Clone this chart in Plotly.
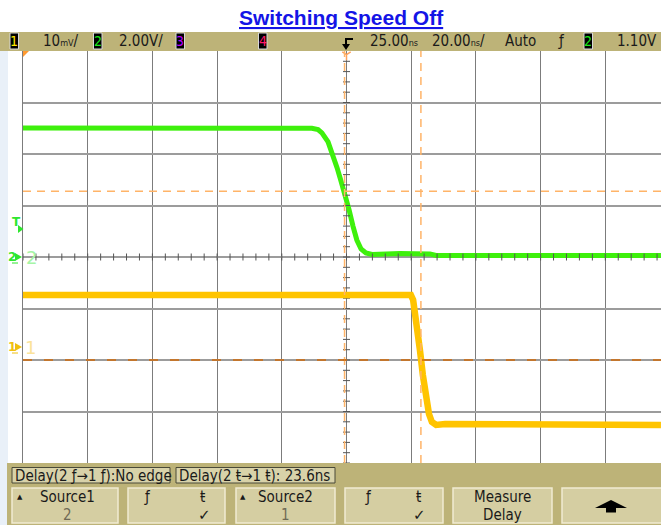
import numpy as np
import plotly.graph_objects as go

# ---------------- data ----------------
# Channel 2 (green) : time in ns, volts
ch2_time_ns = [-75, 14.3, 16.2, 17.4, 19.3, 20.8, 22.1, 23.3, 24.5, 25.8, 27.0,
               28.2, 29.5, 31.0, 32.9, 41.5, 50.8, 52.7, 122.2]
ch2_volts = [5.01, 5.0, 4.95, 4.82, 4.47, 3.96, 3.46, 2.95, 2.45, 1.83, 1.20,
             0.66, 0.31, 0.16, 0.10, 0.14, 0.12, 0.06, 0.06]
# Channel 1 (yellow) : time in ns, volts
ch1_time_ns = [-75, 44.9, 45.6, 46.5, 47.7, 48.6, 49.6, 50.5, 51.4, 52.7, 55.5, 122.2]
ch1_volts = [10.1, 10.1, 9.15, 5.66, -0.56, -5.41, -9.68, -12.99, -14.54, -15.12, -14.93, -15.1]

# scope settings
ch1_scale, ch1_offset_div = 10.0, -1.75
ch2_scale, ch2_offset_div = 2.0, 0.0
time_per_div, time_center = 20.0, 25.0
trigger_level = 1.10
cursor_times = [24.4, 48.0]
ch2_threshold = 2.55
ch1_threshold = -2.5

title_text = "Switching Speed Off"
meas_labels = ["Delay(2 ƒ→1 ƒ):No edge", "Delay(2 ŧ→1 ŧ): 23.6ns"]

# ---------------- geometry ----------------
W, H = 661, 525
ML, MR, MT, MB = 23, 0, 51, 62
PW, PH = W - ML - MR, H - MT - MB
DIV_PX = 64.7


def px(x):
    return (x - ML) / PW


def py(y):
    return (H - MB - y) / PH


x0 = time_center - 5 * time_per_div
x1 = x0 + PW / DIV_PX * time_per_div
y2rng = [(-4 - ch2_offset_div) * ch2_scale, (4 - ch2_offset_div) * ch2_scale]
y1rng = [(-4 - ch1_offset_div) * ch1_scale, (4 - ch1_offset_div) * ch1_scale]

FN = "Liberation Sans Narrow, DejaVu Sans Condensed, Arial Narrow, sans-serif"
BAR = "#bdb378"
KEY = "#d5cea2"

fig = go.Figure()

# traces
fig.add_trace(go.Scatter(x=ch2_time_ns, y=ch2_volts, mode="lines", yaxis="y",
                         line=dict(color="#3ef00c", width=5), hoverinfo="skip"))
fig.add_trace(go.Scatter(x=ch1_time_ns, y=ch1_volts, mode="lines", yaxis="y2",
                         line=dict(color="#ffc400", width=6.5), hoverinfo="skip"))

# centre crosshair minor ticks
tx = np.arange(x0, x1, time_per_div / 5)
fig.add_trace(go.Scatter(x=tx, y=np.zeros_like(tx), mode="markers", yaxis="y",
                         marker=dict(symbol="line-ns", size=5, line=dict(color="#555555", width=1)),
                         hoverinfo="skip"))
ty = np.arange(y2rng[0], y2rng[1] + 0.01, ch2_scale / 5)
fig.add_trace(go.Scatter(x=np.full_like(ty, time_center), y=ty, mode="markers", yaxis="y",
                         marker=dict(symbol="line-ew", size=5, line=dict(color="#555555", width=1)),
                         hoverinfo="skip"))
# trigger time marker (orange Y) at top
fig.add_trace(go.Scatter(x=[time_center], y=[y2rng[1] - 0.14], mode="markers", yaxis="y",
                         cliponaxis=False,
                         marker=dict(symbol="y-down-open", size=7, line=dict(color="#ff9a30", width=1.5)),
                         hoverinfo="skip"))

shapes = []
ann = []

# cursor / threshold lines
for ct in cursor_times:
    shapes.append(dict(type="line", xref="x", yref="paper", x0=ct, x1=ct, y0=0, y1=1,
                       line=dict(color="#ffb468", width=1.5, dash="8px,6px")))
shapes.append(dict(type="line", xref="paper", yref="y", x0=0, x1=1, y0=ch2_threshold, y1=ch2_threshold,
                   line=dict(color="#ffb468", width=1.5, dash="8px,6px")))
shapes.append(dict(type="line", xref="paper", yref="y2", x0=0, x1=1, y0=ch1_threshold, y1=ch1_threshold,
                   line=dict(color="#d06a08", width=1.5, dash="9px,12px")))


def rect(xa, ya, xb, yb, fill, line=None, lw=1):
    shapes.append(dict(type="rect", xref="paper", yref="paper",
                       x0=px(xa), x1=px(xb), y0=py(yb), y1=py(ya),
                       fillcolor=fill, line=dict(color=line or fill, width=lw if line else 0)))


def path(points, fill, line=None, lw=0):
    d = "M " + " L ".join(f"{px(a):.5f},{py(b):.5f}" for a, b in points) + " Z"
    shapes.append(dict(type="path", xref="paper", yref="paper", path=d,
                       fillcolor=fill, line=dict(color=line or fill, width=lw)))


def txt(x, y, s, size=15, color="#1a1a1a", xa="left", font=FN, **kw):
    ann.append(dict(x=px(x), y=py(y), xref="paper", yref="paper", text=s, showarrow=False,
                    xanchor=xa, yanchor="middle", borderpad=0,
                    font=dict(family=font, size=size, color=color), **kw))


# faint background watermark strip
rect(0, 51, 8, 525, "#e9f0f8")

# top status bar
rect(0, 32, 661, 51, BAR)


def chbox(x, digit, color):
    rect(x, 33, x + 8.5, 49, "#000000", "#d8d8d8", 1)
    txt(x + 4.25, 41, digit, size=14, color=color, xa="center")


chbox(10, "1", "#ffe600")
txt(42, 41, "10<span style='font-size:9px'>mV</span>/")
chbox(93.5, "2", "#19e619")
txt(118, 41, "2.00V/")
chbox(176, "3", "#b400ff")
chbox(258.5, "4", "#ff1a6a")
# trigger position icon
shapes.append(dict(type="path", xref="paper", yref="paper",
                   path=f"M {px(353):.5f},{py(39):.5f} L {px(346):.5f},{py(39):.5f} L {px(346):.5f},{py(45):.5f}",
                   line=dict(color="#000000", width=2)))
path([(342, 44), (350, 44), (346, 50)], "#000000")
txt(369, 41, "25.00<span style='font-size:9px'>ns</span>")
txt(431, 41, "20.00<span style='font-size:9px'>ns</span>/")
txt(504, 41, "Auto")
txt(557, 41, "ƒ", size=15)
chbox(584, "2", "#19e619")
txt(616, 41, "1.10V")

# orange ref triangle top-left
path([(23, 51), (29, 51), (23, 57)], "#ff9a30")

# title
txt(341, 18, "<b><u>" + title_text + "</u></b>", size=21, color="#1414e6", xa="center",
    font="Liberation Sans, Arial, sans-serif")

# left channel markers
txt(16, 222, "<b>T</b>", size=12, color="#2ee62e", xa="center", font="DejaVu Sans")
path([(18, 225), (23.5, 229), (18, 233)], "#2ee62e")
txt(12, 257, "<b>2</b>", size=12, color="#2ee62e", xa="center", font="DejaVu Sans")
path([(15, 253), (22, 257), (15, 261)], "#2ee62e")
shapes.append(dict(type="line", xref="paper", yref="paper", x0=px(12), x1=px(18), y0=py(263), y1=py(263),
                   line=dict(color="#2ee62e", width=1)))
txt(31, 257, "2", size=18, color="#a6f5a6", xa="center", font="DejaVu Sans")
txt(12, 347, "<b>1</b>", size=12, color="#f0c010", xa="center", font="DejaVu Sans")
path([(15, 343), (22, 347), (15, 351)], "#f0c010")
shapes.append(dict(type="line", xref="paper", yref="paper", x0=px(12), x1=px(18), y0=py(353), y1=py(353),
                   line=dict(color="#f0c010", width=1)))
txt(30, 347, "1", size=18, color="#fbe39a", xa="center", font="DejaVu Sans")

# bottom bar
rect(7, 463, 661, 525, BAR)
# measurement boxes
rect(12, 467.5, 170, 483, "#d8d2a9", "#4a4a38", 1)
txt(14, 475.5, meas_labels[0])
rect(176, 467.5, 335, 483, "#d8d2a9", "#4a4a38", 1)
txt(178, 475.5, meas_labels[1])

# softkeys
keys = [(12, 118), (128, 225), (236, 335), (345, 443), (453, 552), (562, 668)]
for a, b in keys:
    rect(a, 488, b, 523, KEY, "#f1ecd2", 1.5)

R1, R2, KS = 497, 515, 15
txt(20, R1, "▲", size=7, xa="center", font="DejaVu Sans")
txt(67, R1, "Source1", size=KS, xa="center")
txt(67, R2, "2", size=KS, color="#6e6a55", xa="center")
txt(147, R1, "ƒ", size=KS, xa="center")
txt(203, R1, "ŧ", size=KS, xa="center")
txt(204, R2, "✓", size=15, xa="center", font="DejaVu Sans")
txt(243, R1, "▲", size=7, xa="center", font="DejaVu Sans")
txt(285, R1, "Source2", size=KS, xa="center")
txt(285, R2, "1", size=KS, color="#6e6a55", xa="center")
txt(368, R1, "ƒ", size=KS, xa="center")
txt(418, R1, "ŧ", size=KS, xa="center")
txt(419, R2, "✓", size=15, xa="center", font="DejaVu Sans")
txt(502, R1, "Measure", size=KS, xa="center")
txt(502, R2, "Delay", size=KS, xa="center")
path([(595, 508), (611, 500), (627, 508), (616, 508), (616, 512.5), (606, 512.5), (606, 508)], "#000000")

fig.update_layout(
    width=W, height=H,
    margin=dict(l=ML, r=MR, t=MT, b=MB, pad=0),
    paper_bgcolor="#ffffff", plot_bgcolor="#ffffff",
    showlegend=False,
    xaxis=dict(range=[x0, x1], tick0=x0, dtick=time_per_div, showticklabels=False, ticks="",
               showgrid=True, gridcolor="#7c7c7c", gridwidth=1.2, zeroline=False,
               showline=True, linecolor="#7c7c7c", linewidth=1.2, mirror=True, fixedrange=True),
    yaxis=dict(range=y2rng, tick0=y2rng[0], dtick=ch2_scale, showticklabels=False, ticks="",
               showgrid=True, gridcolor="#9c9c9c", gridwidth=1.5, zeroline=False,
               showline=True, linecolor="#7c7c7c", linewidth=1.2, mirror=True, fixedrange=True),
    yaxis2=dict(range=y1rng, overlaying="y", showticklabels=False, ticks="", showgrid=False,
                zeroline=False, fixedrange=True),
    shapes=shapes,
    annotations=ann,
)

fig.write_html("out.html", config={"displayModeBar": False},
               post_script="document.body.style.margin='0';document.body.style.overflow='hidden';")
